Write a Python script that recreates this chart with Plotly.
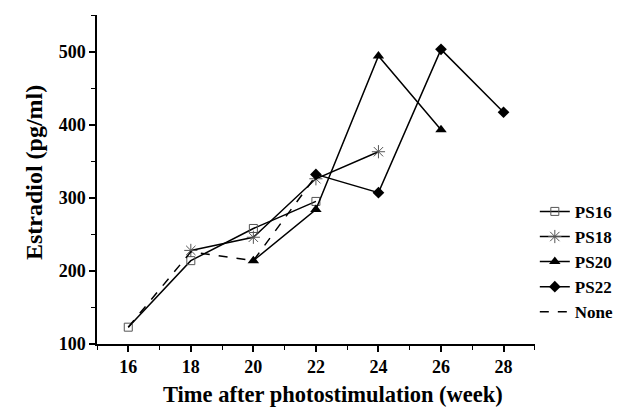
import plotly.graph_objects as go

weeks_ps16 = [16, 18, 20, 22]
ps16 = [123, 214, 258, 295]
weeks_ps18 = [18, 20, 22, 24]
ps18 = [228, 246, 326, 363]
weeks_ps20 = [20, 22, 24, 26]
ps20 = [214, 284, 494, 393]
weeks_ps22 = [22, 24, 26, 28]
ps22 = [332, 307, 503, 417]
weeks_none = [16, 18, 20, 22]
none = [123, 226, 214, 330]

x_ticks = [16, 18, 20, 22, 24, 26, 28]
y_ticks = [100, 200, 300, 400, 500]

FONT = "Liberation Serif"

def bfont(size):
    return dict(family=FONT, size=size, color="black", weight="bold")

fig = go.Figure()
fig.add_trace(go.Scatter(x=weeks_ps16, y=ps16, name="PS16", mode="lines+markers",
                         line=dict(color="black", width=1.5),
                         marker=dict(symbol="square-open", size=8, color="#555555",
                                     line=dict(width=1))))
fig.add_trace(go.Scatter(x=weeks_ps18, y=ps18, name="PS18", mode="lines+markers",
                         line=dict(color="black", width=1.5),
                         marker=dict(symbol="asterisk-open", size=11, color="#555555",
                                     line=dict(width=1, color="#555555"))))
fig.add_trace(go.Scatter(x=weeks_ps20, y=ps20, name="PS20", mode="lines+markers",
                         line=dict(color="black", width=1.5),
                         marker=dict(symbol="triangle-up", size=10, color="black")))
fig.add_trace(go.Scatter(x=weeks_ps22, y=ps22, name="PS22", mode="lines+markers",
                         line=dict(color="black", width=1.5),
                         marker=dict(symbol="diamond", size=9, color="black")))
fig.add_trace(go.Scatter(x=weeks_none, y=none, name="None", mode="lines",
                         line=dict(color="black", width=1.5, dash="dash")))

axis_common = dict(showline=True, linecolor="black", linewidth=1.5, ticks="outside",
                   ticklen=6, tickwidth=1.5, tickcolor="black", showgrid=False,
                   zeroline=False, mirror=False, tickfont=bfont(18), automargin=False)

fig.update_xaxes(range=[15, 29], tickvals=x_ticks, **axis_common,
                 minor=dict(dtick=1, tick0=15, ticks="outside", ticklen=4, tickwidth=1.2,
                            tickcolor="black"))
fig.update_yaxes(range=[100, 550], tickvals=y_ticks, **axis_common,
                 minor=dict(dtick=50, tick0=100, ticks="outside", ticklen=4, tickwidth=1.2,
                            tickcolor="black"))

fig.add_annotation(text="Time after photostimulation (week)", xref="paper", yref="paper",
                   x=0.538, y=-0.152, xanchor="center", yanchor="middle",
                   showarrow=False, font=bfont(22.5))
fig.add_annotation(text="Estradiol (pg/ml)", xref="paper", yref="paper",
                   x=-0.145, y=0.521, xanchor="center", yanchor="middle",
                   textangle=-90, showarrow=False, font=bfont(24))

fig.update_layout(
    width=619, height=409,
    margin=dict(l=97, r=72, t=15, b=65),
    plot_bgcolor="white", paper_bgcolor="white",
    font=bfont(18),
    legend=dict(xref="container", yref="container", x=0.864, y=0.526,
                xanchor="left", yanchor="top",
                bgcolor="rgba(0,0,0,0)", font=bfont(17), tracegroupgap=0),
)

fig.write_html("out.html", config={"displayModeBar": False},
               post_script="document.body.style.margin='0';document.body.style.overflow='hidden';")
